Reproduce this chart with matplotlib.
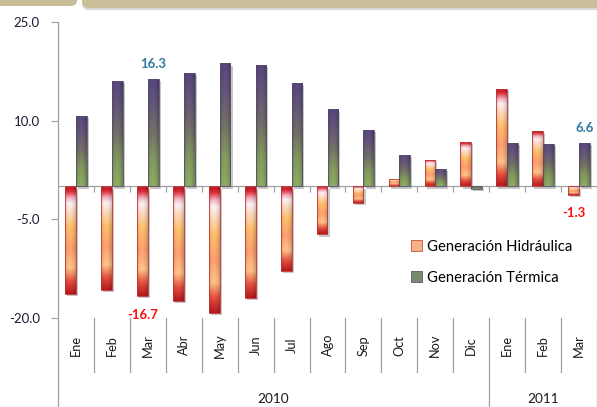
import numpy as np
import matplotlib
matplotlib.use("Agg")
import matplotlib.pyplot as plt
from matplotlib.patches import FancyBboxPatch, Patch
from matplotlib.colors import to_rgb
from matplotlib.transforms import IdentityTransform, blended_transform_factory
import matplotlib.patheffects as pe

# ---------------- data ----------------
months = ["Ene", "Feb", "Mar", "Abr", "May", "Jun", "Jul", "Ago", "Sep", "Oct",
          "Nov", "Dic", "Ene", "Feb", "Mar"]
years = ["2010", "2011"]
year_counts = [12, 3]
hidraulica = [-16.4, -15.7, -16.7, -17.4, -19.2, -17.0, -12.9, -7.3, -2.5, 1.2,
              4.0, 6.8, 14.8, 8.5, -1.3]
termica = [10.7, 16.0, 16.3, 17.3, 18.7, 18.5, 15.8, 11.7, 8.6, 4.8,
           2.6, -0.4, 6.6, 6.5, 6.6]
series_names = ["Generación Hidráulica", "Generación Térmica"]
yticks = [-20.0, -5.0, 10.0, 25.0]
labeled_hid = [2, 14]
labeled_ter = [2, 14]

plt.rcParams['font.family'] = ['Lato', 'DejaVu Sans']

W, H = 597, 407
fig = plt.figure(figsize=(W / 100, H / 100), dpi=100)
ax = fig.add_axes([58 / W, (H - 318) / H, 539 / W, 296 / H])

x = np.arange(len(months))
bw = 0.3

def grad_img(stops, n=200, m=24, k=0.16):
    pos = np.array([s[0] for s in stops])
    cols = np.array([to_rgb(s[1]) for s in stops])
    t = np.linspace(0, 1, n)
    img = np.zeros((n, m, 3))
    for c in range(3):
        col = np.interp(t, pos, cols[:, c])
        img[:, :, c] = col[:, None]
    u = np.linspace(0, 1, m)
    shade = 1 - k * (np.abs(u - 0.45) * 2) ** 2
    img = img * shade[None, :, None]
    return np.clip(img, 0, 1)

hid_stops = [(0.0, "#B8101C"), (0.05, "#E2303A"), (0.11, "#F6B8C8"),
             (0.16, "#FFF2F4"), (0.24, "#FFDCC4"), (0.38, "#FFC06C"),
             (0.58, "#FFA070"), (0.76, "#FFC488"), (0.88, "#E65040"),
             (1.0, "#B81820")]
ter_stops = [(0.0, "#5A4680"), (0.22, "#65557C"), (0.5, "#747068"),
             (0.75, "#849A60"), (1.0, "#8EAE62")]
img_h = grad_img(hid_stops)
img_t = grad_img(ter_stops, k=0.2)

shadow = [pe.SimplePatchShadow(offset=(1.5, -1.5), shadow_rgbFace="k", alpha=0.22)]

def draw_series(xpos, vals, img, edge):
    ax.bar(xpos, vals, bw, facecolor="none", edgecolor="none", zorder=1.5,
           path_effects=shadow)
    bars = ax.bar(xpos, vals, bw, facecolor="none", edgecolor=edge,
                  linewidth=0.6, zorder=3)
    for p in bars.patches:
        x0, w = p.get_x(), p.get_width()
        y0, h = p.get_y(), p.get_height()
        b, t = min(y0, y0 + h), max(y0, y0 + h)
        im = ax.imshow(img, extent=[x0, x0 + w, b, t], origin="upper",
                       aspect="auto", interpolation="bilinear", zorder=2)
        im.set_clip_path(p)
    return bars

draw_series(x - bw / 2, hidraulica, img_h, "#C03434")
draw_series(x + bw / 2, termica, img_t, "#55506A")

ax.set_xlim(-0.5, len(months) - 0.5)
ax.set_ylim(-20, 25)
ax.set_yticks(yticks)
ax.set_yticklabels([f"{v:.1f}" for v in yticks])
ax.tick_params(axis="y", length=5, width=0.8, color="#A0A0A0", pad=8,
               labelsize=9.5, labelcolor="#1C1C30")
ax.set_xticks([])
for s in ["top", "right", "bottom"]:
    ax.spines[s].set_visible(False)
ax.spines["left"].set_color("#A0A0A0")
ax.spines["left"].set_linewidth(0.9)

# zero axis line with small ticks
ax.axhline(0, color="#A0A0A0", lw=0.9, zorder=2.5)
ax.vlines(np.arange(len(months) - 1) + 0.5, -0.8, 0, color="#A0A0A0", lw=0.9, zorder=2.5)

# data labels
for i in labeled_ter:
    ax.annotate(f"{termica[i]:.1f}", (i + bw / 2, termica[i]), xytext=(0, 6.5),
                textcoords="offset points", ha="center", va="bottom",
                color="#2E7DA0", fontsize=9.5, fontweight="bold")
for i in labeled_hid:
    ax.annotate(f"{hidraulica[i]:.1f}", (i - bw / 2, hidraulica[i]), xytext=(0, -9),
                textcoords="offset points", ha="center", va="top",
                color="#FF1010", fontsize=9.5, fontweight="bold")

# category axis below plot
tr = blended_transform_factory(ax.transData, ax.transAxes)
for i, m in enumerate(months):
    ax.text(i, -0.092, m, transform=tr, rotation=90, ha="center", va="center",
            fontsize=9.2, color="#1A1A1A")
long_b = [-0.5]
acc = -0.5
for c in year_counts:
    acc += c
    long_b.append(acc)
for b in np.arange(len(months) + 1) - 0.5:
    if b in long_b:
        ax.plot([b, b], [0, -0.31], transform=tr, color="#A0A0A0", lw=0.9, clip_on=False)
    else:
        ax.plot([b, b], [0, -0.182], transform=tr, color="#A0A0A0", lw=0.9, clip_on=False)
start = -0.5
for yname, c in zip(years, year_counts):
    ax.text(start + c / 2, -0.272, yname, transform=tr, ha="center", va="center",
            fontsize=9.8, color="#1A1A1A")
    start += c

# legend
handles = [Patch(facecolor="#F6B484", edgecolor="#D04848", lw=0.6),
           Patch(facecolor="#788A6C", edgecolor="#5A5A78", lw=0.6)]
fig.legend(handles, series_names, loc="upper left",
           bbox_to_anchor=(411 / W, (H - 240) / H), frameon=False,
           handlelength=0.75, handleheight=0.75, handletextpad=0.35,
           labelspacing=1.15, fontsize=10.7, borderaxespad=0, borderpad=0)

# decorative banners at top
ban = "#C8BE98"
fig.add_artist(FancyBboxPatch((-10, H - 6), 87, 20, boxstyle="round,pad=0,rounding_size=6",
                              transform=IdentityTransform(), facecolor=ban, edgecolor="none"))
fig.add_artist(FancyBboxPatch((82, H - 8), 530, 20, boxstyle="round,pad=0,rounding_size=7",
                              transform=IdentityTransform(), facecolor=ban, edgecolor="none",
                              path_effects=[pe.SimplePatchShadow(offset=(0, -1.5), alpha=0.2),
                                            pe.Normal()]))

fig.savefig("out.png", dpi=100)
